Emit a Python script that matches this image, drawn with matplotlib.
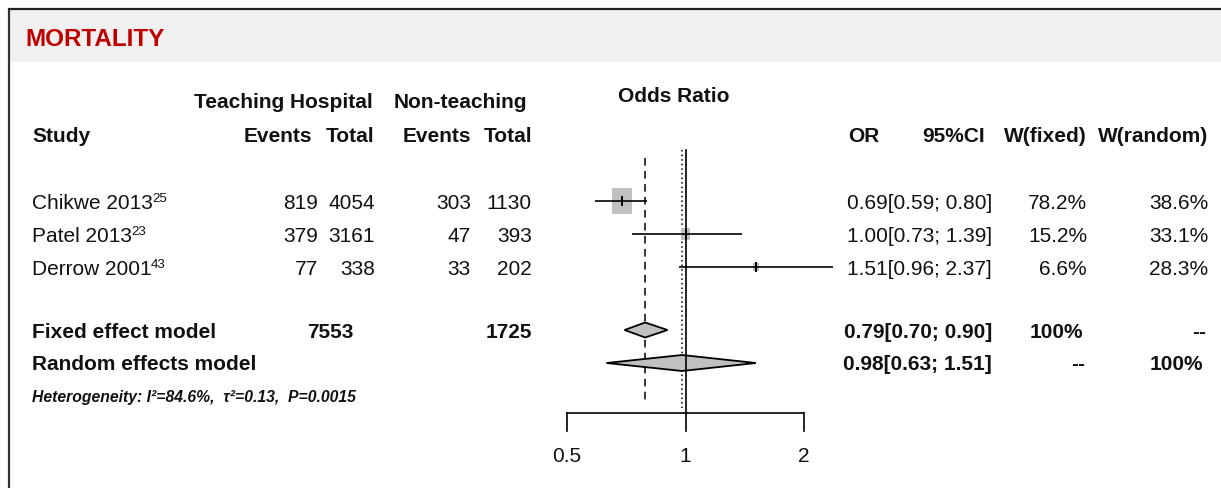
import numpy as np
import matplotlib
matplotlib.use("Agg")
import matplotlib.pyplot as plt
from matplotlib.patches import Rectangle, Polygon

plt.rcParams['font.family'] = ['Liberation Sans', 'DejaVu Sans']

# ---------------- data ----------------
title = "MORTALITY"
studies = ["Chikwe 2013", "Patel 2013", "Derrow 2001"]
refs = ["25", "23", "43"]
te_events = [819, 379, 77]
te_total = [4054, 3161, 338]
nt_events = [303, 47, 33]
nt_total = [1130, 393, 202]
odds = [0.69, 1.00, 1.51]
ci_low = [0.59, 0.73, 0.96]
ci_high = [0.80, 1.39, 2.37]
w_fixed = [78.2, 15.2, 6.6]
w_random = [38.6, 33.1, 28.3]
fixed_or, fixed_lo, fixed_hi = 0.79, 0.70, 0.90
random_or, random_lo, random_hi = 0.98, 0.63, 1.51
fixed_te_total, fixed_nt_total = 7553, 1725
i2, tau2, pval = "84.6%", "0.13", "0.0015"
xticks = [0.5, 1, 2]
xtick_labels = ["0.5", "1", "2"]

W, H = 1221, 488
fig = plt.figure(figsize=(W / 100, H / 100), dpi=100)
renderer = fig.canvas.get_renderer()

# overlay axes in pixel coordinates for layout / table text
ov = fig.add_axes([0, 0, 1, 1])
ov.set_xlim(0, W)
ov.set_ylim(H, 0)
ov.axis('off')

# header band and frame
ov.add_patch(Rectangle((10, 10), W - 10, 52, facecolor='#f0f0f0', edgecolor='none', zorder=0))
ov.plot([8.5, 8.5], [9, H], color='#333333', lw=1.6, solid_capstyle='butt')
ov.plot([8, W], [9, 9], color='#222222', lw=1.6, solid_capstyle='butt')
ov.text(25, 46, title, color='#c00000', fontsize=17.5, fontweight='bold', va='baseline', ha='left')

FS = 15
tc = '#111111'
def T(x, y, s, ha='left', bold=False, fs=FS, style='normal'):
    return ov.text(x, y, s, ha=ha, va='baseline', fontsize=fs, color=tc,
                   fontweight='bold' if bold else 'normal', fontstyle=style)

# headers
T(283, 108.5, "Teaching Hospital", ha='center', bold=True)
T(460, 108.5, "Non-teaching", ha='center', bold=True)
T(674, 102.5, "Odds Ratio", ha='center', bold=True)
hy = 141.5
T(32, hy, "Study", bold=True)
T(312, hy, "Events", ha='right', bold=True)
T(374, hy, "Total", ha='right', bold=True)
T(471, hy, "Events", ha='right', bold=True)
T(532, hy, "Total", ha='right', bold=True)
T(864, hy, "OR", ha='center', bold=True)
T(985, hy, "95%CI", ha='right', bold=True)
T(1087, hy, "W(fixed)", ha='right', bold=True)
T(1208, hy, "W(random)", ha='right', bold=True)

row_base = [209, 242, 275]
for i in range(len(studies)):
    y = row_base[i]
    t = T(32, y, studies[i])
    bb = t.get_window_extent(renderer=renderer)
    ov.text(bb.x1 * 100 / fig.dpi - 0.5, y - 7, refs[i], ha='left', va='baseline',
            fontsize=9.5, color=tc)
    T(318, y, f"{te_events[i]}", ha='right')
    T(375, y, f"{te_total[i]}", ha='right')
    T(471, y, f"{nt_events[i]}", ha='right')
    T(532, y, f"{nt_total[i]}", ha='right')
    T(992, y, f"{odds[i]:.2f}[{ci_low[i]:.2f}; {ci_high[i]:.2f}]", ha='right')
    T(1087, y, f"{w_fixed[i]:.1f}%", ha='right')
    T(1208, y, f"{w_random[i]:.1f}%", ha='right')

fy, ry = 337.5, 370.5
T(32, fy, "Fixed effect model", bold=True)
T(353, fy, f"{fixed_te_total}", ha='right', bold=True)
T(532, fy, f"{fixed_nt_total}", ha='right', bold=True)
T(992, fy, f"{fixed_or:.2f}[{fixed_lo:.2f}; {fixed_hi:.2f}]", ha='right', bold=True)
T(1083, fy, "100%", ha='right', bold=True)
T(1206, fy, "--", ha='right', bold=True)
T(32, ry, "Random effects model", bold=True)
T(992, ry, f"{random_or:.2f}[{random_lo:.2f}; {random_hi:.2f}]", ha='right', bold=True)
T(1085, ry, "--", ha='right', bold=True)
T(1203, ry, "100%", ha='right', bold=True)
T(32, 402, f"Heterogeneity: I²={i2},  τ²={tau2},  P={pval}", bold=True, fs=11.3, style='italic')

# ---------------- forest axes ----------------
x_left, x_right = 567, 804
ax = fig.add_axes([x_left / W, 0, (x_right - x_left) / W, 1])
ax.set_xscale('log', base=2)
ax.set_xlim(xticks[0], xticks[-1])
ax.set_ylim(H, 0)
ax.axis('off')
ax.patch.set_alpha(0)
ppu = (x_right - x_left) / np.log2(xticks[-1] / xticks[0])  # px per log2 unit

lw = 1.2
row_y = [b - 8 for b in row_base]
for i in range(len(studies)):
    y = row_y[i]
    hw = 1.15 * np.sqrt(w_fixed[i]) / ppu
    hh = 1.5 * np.sqrt(w_fixed[i])
    x0 = odds[i] * 2 ** (-hw)
    x1 = odds[i] * 2 ** (hw)
    ax.add_patch(Rectangle((x0, y - hh), x1 - x0, 2 * hh, facecolor='#c0c0c0',
                           edgecolor='none', zorder=2, clip_on=False))
    ax.plot([ci_low[i], ci_high[i]], [y, y], color='black', lw=lw, zorder=3,
            clip_on=False, solid_capstyle='butt')
    ax.plot([odds[i], odds[i]], [y - 4, y + 4], color='black', lw=1.4, zorder=3, clip_on=False)

def diamond(c, lo, hi, y, h):
    ax.add_patch(Polygon([[lo, y], [c, y - h], [hi, y], [c, y + h]], closed=True,
                         facecolor='#c0c0c0', edgecolor='black', lw=1.3, zorder=3, clip_on=False))

diamond(fixed_or, fixed_lo, fixed_hi, fy - 7.5, 7.5)
diamond(random_or, random_lo, random_hi, ry - 7.5, 8)

# reference lines
ax.plot([1, 1], [150, 413], color='black', lw=1.2, zorder=4, clip_on=False)
ax.plot([fixed_or, fixed_or], [158, 400], color='black', lw=1.1, zorder=1,
        dashes=(5, 3.5), clip_on=False)
ax.plot([random_or, random_or], [150, 408], color='black', lw=1.1, zorder=1,
        dashes=(1, 2), clip_on=False)

# x axis
ax.plot([xticks[0], xticks[-1]], [413, 413], color='black', lw=1.2, clip_on=False,
        solid_capstyle='projecting')
for t, lab in zip(xticks, xtick_labels):
    ax.plot([t, t], [413, 431], color='black', lw=1.2, clip_on=False)
    ax.text(t, 462, lab, ha='center', va='baseline', fontsize=FS, color=tc)

fig.savefig("out.png", dpi=100, facecolor='white')
